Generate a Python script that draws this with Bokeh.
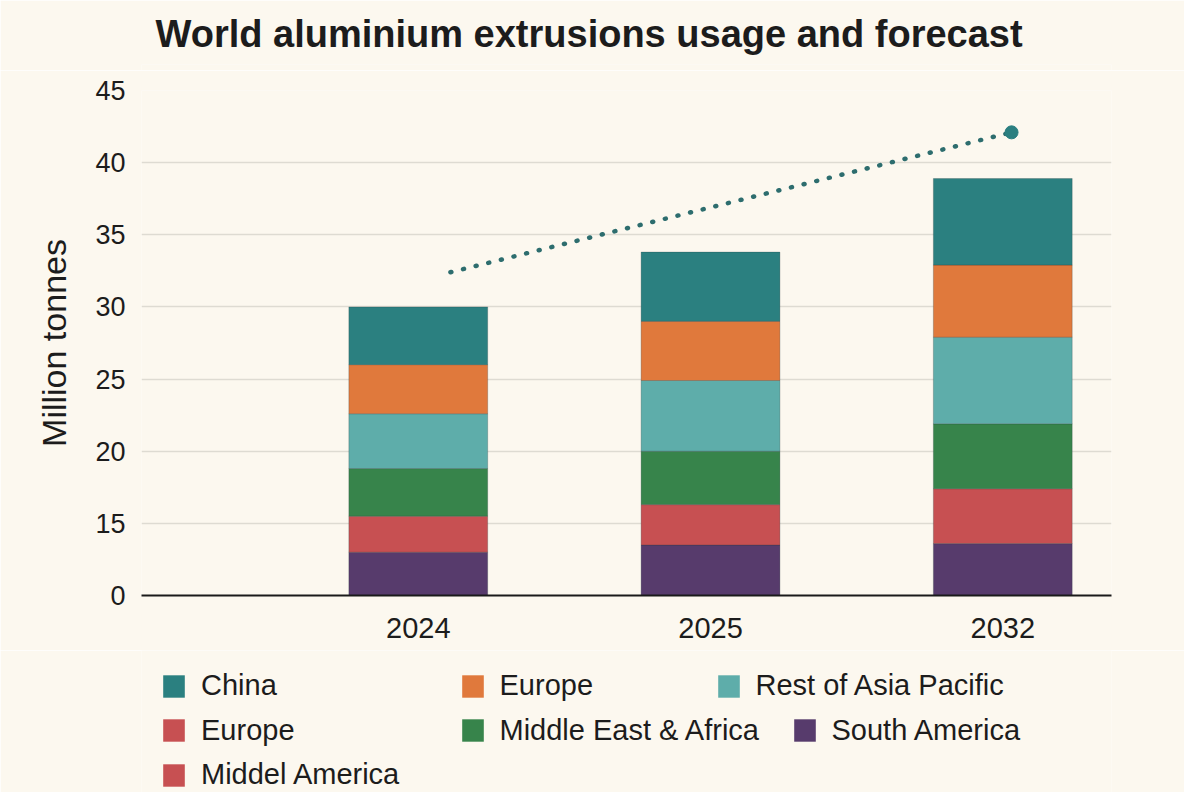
from bokeh.plotting import figure
from bokeh.models import ColumnDataSource, Range1d, FixedTicker, Legend, LegendItem
from bokeh.layouts import column
from bokeh.embed import file_html
from bokeh.resources import INLINE

# ---------------- data ----------------
years = ["2024", "2025", "2032"]
south_america = [13.0, 13.5, 13.6]
europe_red = [2.5, 2.8, 3.8]          # red segment (legend: "Europe" / "Middel America")
middle_east_africa = [3.3, 3.7, 4.5]
rest_of_asia_pacific = [3.8, 4.9, 6.0]
europe_orange = [3.4, 4.1, 5.0]
china = [4.0, 4.8, 6.0]

y_ticks = [10, 15, 20, 25, 30, 35, 40, 45]
y_tick_labels = ["0", "15", "20", "25", "30", "35", "40", "45"]

trend_years = ["2024", "2032"]
trend_values = [32.4, 42.1]

title_text = "World aluminium extrusions usage and forecast"

# ---------------- style ----------------
BG = "#fcf8ef"
TXT = "#1c1c1c"
FONT = "Liberation Sans"
series = [
    ("south_america", south_america, "#573b6c"),
    ("europe_red", europe_red, "#c75052"),
    ("middle_east_africa", middle_east_africa, "#37844b"),
    ("rest_of_asia_pacific", rest_of_asia_pacific, "#5eadaa"),
    ("europe_orange", europe_orange, "#e0793c"),
    ("china", china, "#2b8080"),
]

W = 1184
H_TITLE = 70
H_MAIN = 580
H_LEG = 142
MB_L, MB_R, MB_T, MB_B = 141, 73, 20, 55

# ---------------- title panel ----------------
tf = figure(width=W, height=H_TITLE, output_backend="svg", toolbar_location=None,
            x_range=Range1d(0, 1), y_range=Range1d(0, 1),
            x_axis_type=None, y_axis_type=None,
            min_border_left=MB_L, min_border_right=MB_R,
            min_border_top=0, min_border_bottom=0,
            background_fill_color=BG, border_fill_color=BG)
tf.outline_line_color = None
tf.grid.visible = False
tf.title.text = title_text
tf.title.text_font = FONT
tf.title.text_font_size = "38px"
tf.title.text_font_style = "bold"
tf.title.text_color = TXT
tf.title.align = "left"
tf.title.offset = 14
tf.title.standoff = 20

# ---------------- main chart ----------------
x_idx = list(range(len(years)))
data = {"x": x_idx}
bottom = [0.0] * len(years)
for key, vals, _ in series:
    top = [b + v for b, v in zip(bottom, vals)]
    data[key + "_b"] = bottom
    data[key + "_t"] = top
    bottom = top
src = ColumnDataSource(data)

p = figure(width=W, height=H_MAIN, output_backend="svg", toolbar_location=None,
           title=None,
           x_range=Range1d(-0.947, 2.372), y_range=Range1d(10, 45),
           min_border_left=MB_L, min_border_right=MB_R,
           min_border_top=MB_T, min_border_bottom=MB_B,
           background_fill_color=BG, border_fill_color=BG)
p.outline_line_color = None

for key, vals, col in series:
    p.vbar(x="x", bottom=key + "_b", top=key + "_t", width=0.475, source=src,
           fill_color=col, line_color="#24363a", line_alpha=0.25, line_width=1)

# forecast dotted line
tx = [years.index(trend_years[0]) + 0.11, years.index(trend_years[1]) + 0.03]
p.line(tx, trend_values, line_color="#2d6d6e", line_width=4.5, line_dash="1 12",
       line_cap="round")
p.scatter([tx[-1]], [trend_values[-1]], size=13, color="#2b7f80")

# axes
p.yaxis.ticker = FixedTicker(ticks=y_ticks)
p.yaxis.major_label_overrides = {t: l for t, l in zip(y_ticks, y_tick_labels)}
p.yaxis.axis_line_color = None
p.yaxis.major_tick_line_color = None
p.yaxis.minor_tick_line_color = None
p.yaxis.major_label_text_font = FONT
p.yaxis.major_label_text_font_size = "27px"
p.yaxis.major_label_text_color = TXT
p.yaxis.major_label_standoff = 10
p.yaxis.axis_label = "Million tonnes"
p.yaxis.axis_label_text_font = FONT
p.yaxis.axis_label_text_font_size = "34px"
p.yaxis.axis_label_text_font_style = "normal"
p.yaxis.axis_label_text_color = TXT
p.yaxis.axis_label_standoff = 19

p.xaxis.ticker = FixedTicker(ticks=x_idx)
p.xaxis.major_label_overrides = {i: y for i, y in zip(x_idx, years)}
p.xaxis.axis_line_color = "#1a1a1a"
p.xaxis.axis_line_width = 2.2
p.xaxis.major_tick_line_color = None
p.xaxis.minor_tick_line_color = None
p.xaxis.major_label_text_font = FONT
p.xaxis.major_label_text_font_size = "29px"
p.xaxis.major_label_text_color = TXT
p.xaxis.major_label_standoff = 16

p.xgrid.visible = False
p.ygrid.grid_line_color = "#dedbd2"
p.ygrid.grid_line_width = 1.5

# ---------------- legend panel ----------------
lf = figure(width=W, height=H_LEG, output_backend="svg", toolbar_location=None,
            x_range=Range1d(0, 10), y_range=Range1d(0, 10),
            x_axis_type=None, y_axis_type=None,
            min_border_left=MB_L, min_border_right=MB_R,
            min_border_top=0, min_border_bottom=0,
            background_fill_color=BG, border_fill_color=BG)
lf.outline_line_color = None
lf.grid.visible = False
leg_r = {}
for key, _, col in series:
    # legend swatch holders (kept far outside the visible range)
    leg_r[key] = lf.vbar(x=[-100], bottom=[-200], top=[-100], width=1,
                         fill_color=col, line_color=None)

# (label, series key, swatch-center x on page, row)
legend_items = [
    ("China", "china", 173.5, 0),
    ("Europe", "europe_orange", 472.0, 0),
    ("Rest of Asia Pacific", "rest_of_asia_pacific", 728.0, 0),
    ("Europe", "europe_red", 173.5, 1),
    ("Middle East & Africa", "middle_east_africa", 472.0, 1),
    ("South America", "south_america", 804.0, 1),
    ("Middel America", "europe_red", 173.5, 2),
]
row_center = [683.0, 727.5, 772.0]
GW, GH, ITEM_H = 27, 28, 33
leg_top_page = H_TITLE + H_MAIN
for label, key, cx, row in legend_items:
    vx = cx - GW / 2 - MB_L
    y_top = row_center[row] - GH / 2 - leg_top_page
    vy = H_LEG - (y_top + ITEM_H)
    leg = Legend(items=[LegendItem(label=label, renderers=[leg_r[key]])],
                 location=(vx, vy), orientation="vertical",
                 padding=0, margin=0, spacing=0,
                 border_line_alpha=0, background_fill_alpha=0,
                 glyph_width=GW, glyph_height=GH, label_standoff=14,
                 label_text_font=FONT, label_text_font_size="29px",
                 label_text_color=TXT)
    lf.add_layout(leg)

layout = column(tf, p, lf, spacing=0)
open("out.html", "w").write(file_html(layout, INLINE))
